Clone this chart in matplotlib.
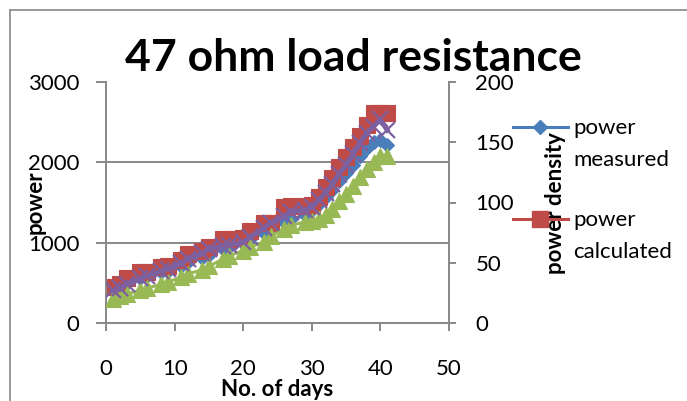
import matplotlib
matplotlib.use('Agg')
import matplotlib.pyplot as plt
from matplotlib.lines import Line2D

# ---------------- data ----------------
days = [1, 2, 3, 5, 6, 8, 9, 11, 12, 14, 15, 17, 18, 20, 21, 23, 24, 26, 27,
        29, 30, 31, 32, 33, 34, 35, 36, 37, 38, 39, 40, 41]
power_measured = [410, 440, 500, 560, 580, 630, 650, 710, 760, 810, 850, 920,
                  950, 1000, 1040, 1120, 1160, 1260, 1290, 1340, 1410, 1480,
                  1570, 1660, 1770, 1870, 1970, 2080, 2180, 2250, 2280, 2220]
power_calculated = [450, 490, 560, 630, 640, 700, 705, 780, 860, 900, 945,
                    1040, 1050, 1060, 1140, 1240, 1250, 1450, 1455, 1460, 1465,
                    1570, 1690, 1810, 1940, 2065, 2190, 2330, 2470, 2610, 2620,
                    2620]
density_measured = [20, 22, 24, 27, 29, 32, 34, 38, 41, 44, 47, 53, 56, 60, 63,
                    67, 72, 78, 81, 84, 85, 86, 90, 95, 101, 107, 114, 121, 128,
                    134, 139, 139]
density_calculated = [27, 29, 32, 37, 39, 43, 45, 50, 53, 58, 61, 64, 65, 67,
                      71, 79, 83, 89, 92, 94, 96, 102, 108, 115, 124, 131, 140,
                      149, 158, 163, 169, 160]

x_ticks = [0, 10, 20, 30, 40, 50]
y_ticks = [0, 1000, 2000, 3000]
y2_ticks = [0, 50, 100, 150, 200]

title = '47 ohm load resistance'
x_label = 'No. of days'
y_label = 'power'
y2_label = 'power density'
legend_labels = [('power', 'measured'), ('power', 'calculated')]

# ---------------- style ----------------
plt.rcParams['font.family'] = ['Lato', 'DejaVu Sans']
W, H = 687, 401
fig = plt.figure(figsize=(W / 100, H / 100), dpi=100)


def fx(px):
    return px / W


def fy(py):
    return 1 - py / H


GRAY = '#888888'
BLUE = '#4A7EBB'
RED = '#BE4B48'
GREEN = '#98B954'
PURPLE = '#7D60A0'
TS = 16

ax = fig.add_axes([fx(106), fy(323), (449 - 106) / W, (323 - 82) / H])
ax2 = ax.twinx()

ax.plot(days, power_measured, color=BLUE, lw=2.2, marker='D', ms=7.5,
        mfc=BLUE, mec=BLUE, mew=0.8)
ax.plot(days, power_calculated, color=RED, lw=2.2, marker='s', ms=12,
        mfc=RED, mec=RED, mew=0.8)
ax2.plot(days, density_measured, color=GREEN, lw=2.2, marker='^', ms=12,
         mfc=GREEN, mec=GREEN, mew=0.8)
ax2.plot(days, density_calculated, color=PURPLE, lw=3.5, marker='x', ms=11,
         mec=PURPLE, mew=1.6)

ax.set_xlim(0, 50)
ax.set_ylim(0, 3000)
ax2.set_ylim(0, 200)
ax.set_xticks(x_ticks)
ax.set_yticks(y_ticks)
ax2.set_yticks(y2_ticks)

for s in ['top', 'right']:
    ax.spines[s].set_visible(False)
for s in ['top', 'left', 'bottom']:
    ax2.spines[s].set_visible(False)
for s in ['left', 'bottom']:
    ax.spines[s].set_color(GRAY)
    ax.spines[s].set_linewidth(1.4)
ax2.spines['right'].set_color(GRAY)
ax2.spines['right'].set_linewidth(1.4)

ax.tick_params(axis='x', direction='out', length=6, width=1.4, color=GRAY,
               pad=20, labelsize=TS)
ax.tick_params(axis='y', direction='out', length=7, width=1.4, color=GRAY,
               pad=12, labelsize=TS)
ax2.tick_params(axis='y', direction='out', length=5, width=1.4, color=GRAY,
                pad=14, labelsize=TS)

ax.yaxis.grid(True, color=GRAY, lw=1.4)
ax.set_axisbelow(True)
ax.yaxis.get_major_ticks()[-1].gridline.set_visible(False)

# axis titles
fig.text(fx(35), fy(202), y_label, rotation=90, ha='center', va='center',
         fontsize=TS, fontweight='bold')
fig.text(fx(556), fy(203), y2_label, rotation=90, ha='center', va='center',
         fontsize=TS, fontweight='bold')
fig.text(fx(277), fy(389), x_label, ha='center', va='center',
         fontsize=TS, fontweight='bold')
fig.text(fx(353), fy(58), title, ha='center', va='center',
         fontsize=32, fontweight='bold')

# legend (manual, Excel-like)
leg = [(BLUE, 'D', 7.5, 127), (RED, 's', 12, 219)]
for (c, m, ms, yy), (l1, l2) in zip(leg, legend_labels):
    fig.add_artist(Line2D([fx(513), fx(568)], [fy(yy), fy(yy)], color=c,
                          lw=2.2, transform=fig.transFigure, zorder=5))
    fig.add_artist(Line2D([fx(540)], [fy(yy)], color=c, marker=m, ms=ms,
                          mfc=c, mec=c, lw=0, transform=fig.transFigure,
                          zorder=6))
    fig.text(fx(573), fy(yy + 7), l1, ha='left', va='baseline', fontsize=TS)
    fig.text(fx(573), fy(yy + 39), l2, ha='left', va='baseline', fontsize=TS)

# chart border
fig.add_artist(Line2D([fx(10), fx(10)], [fy(10), 0], color=GRAY, lw=1.2,
                      transform=fig.transFigure))
fig.add_artist(Line2D([fx(10), 1], [fy(10), fy(10)], color=GRAY, lw=1.2,
                      transform=fig.transFigure))

fig.savefig('out.png', dpi=100)
